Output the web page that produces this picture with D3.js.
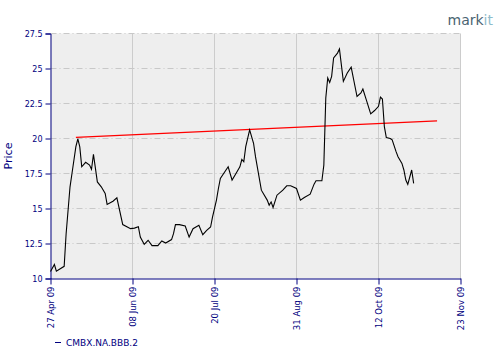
<!DOCTYPE html>
<html><head><meta charset="utf-8">
<script src="https://cdn.jsdelivr.net/npm/d3@7"></script>
<style>body{margin:0;background:#fff}svg{display:block}</style>
</head><body>
<script>
const seriesName = "CMBX.NA.BBB.2";
const dates = ["2009-04-27","2009-04-29","2009-04-30","2009-05-04","2009-05-05","2009-05-07","2009-05-08","2009-05-10","2009-05-11","2009-05-12","2009-05-13","2009-05-15","2009-05-17","2009-05-18","2009-05-19","2009-05-21","2009-05-23","2009-05-25","2009-05-26","2009-05-29","2009-05-31","2009-06-03","2009-06-07","2009-06-09","2009-06-11","2009-06-12","2009-06-14","2009-06-16","2009-06-18","2009-06-21","2009-06-23","2009-06-25","2009-06-28","2009-06-29","2009-06-30","2009-07-02","2009-07-05","2009-07-07","2009-07-09","2009-07-12","2009-07-14","2009-07-16","2009-07-18","2009-07-19","2009-07-21","2009-07-22","2009-07-23","2009-07-27","2009-07-29","2009-07-31","2009-08-02","2009-08-03","2009-08-04","2009-08-05","2009-08-07","2009-08-09","2009-08-10","2009-08-13","2009-08-16","2009-08-17","2009-08-18","2009-08-19","2009-08-21","2009-08-24","2009-08-26","2009-08-28","2009-08-31","2009-09-02","2009-09-04","2009-09-07","2009-09-09","2009-09-10","2009-09-13","2009-09-14","2009-09-15","2009-09-16","2009-09-17","2009-09-18","2009-09-19","2009-09-21","2009-09-22","2009-09-24","2009-09-26","2009-09-28","2009-10-01","2009-10-03","2009-10-04","2009-10-06","2009-10-08","2009-10-10","2009-10-12","2009-10-13","2009-10-14","2009-10-15","2009-10-16","2009-10-18","2009-10-19","2009-10-21","2009-10-22","2009-10-24","2009-10-25","2009-10-26","2009-10-27","2009-10-29","2009-10-30"];
const prices = [10.50,11.00,10.52,10.87,13.20,16.55,17.50,19.42,19.97,19.40,17.98,18.30,18.10,17.80,18.87,16.90,16.55,16.07,15.29,15.52,15.76,13.85,13.56,13.60,13.70,12.96,12.44,12.73,12.35,12.35,12.68,12.53,12.78,13.20,13.85,13.85,13.75,12.96,13.56,13.80,13.13,13.44,13.68,14.40,15.60,16.43,17.15,17.98,17.03,17.50,17.98,18.50,18.34,19.42,20.61,19.66,18.70,16.31,15.60,15.24,15.47,15.07,15.95,16.31,16.62,16.62,16.43,15.60,15.79,16.02,16.74,16.98,16.98,18.10,22.89,24.32,24.00,24.44,25.76,26.10,26.40,24.08,24.68,25.10,23.00,23.25,23.53,22.65,21.76,22.00,22.30,22.96,22.82,20.85,20.06,20.00,19.90,19.06,18.70,18.22,17.75,17.03,16.72,17.75,16.79];
const trendDates = ["2009-05-10","2009-11-11"];
const trendValues = [20.08, 21.26];
const xTickDates = ["2009-04-27","2009-06-08","2009-07-20","2009-08-31","2009-10-12","2009-11-23"];
const yTicks = [10,12.5,15,17.5,20,22.5,25,27.5];

const parse = d3.utcParse("%Y-%m-%d");
const fmt = d3.utcFormat("%d %b %y");
const W = 500, H = 360;
const navy = "#000080";
const svg = d3.select("body").append("svg").attr("width", W).attr("height", H);

const x = d3.scaleUtc().domain([parse(xTickDates[0]), parse(xTickDates[xTickDates.length-1])]).range([50.5, 460.5]);
const y = d3.scaleLinear().domain([10, 27.5]).range([278.5, 33.5]);

// plot background
svg.append("rect").attr("x", 50.5).attr("y", 33.5).attr("width", 410).attr("height", 245).attr("fill", "#eeeeee");

// vertical grid
svg.append("g").selectAll("line").data(xTickDates.slice(1)).join("line")
  .attr("x1", d => x(parse(d))).attr("x2", d => x(parse(d)))
  .attr("y1", 33.5).attr("y2", 278.5)
  .attr("stroke", "#cccccc").attr("stroke-width", 1);

// horizontal grid
svg.append("g").selectAll("line").data(yTicks.slice(1)).join("line")
  .attr("x1", 50.5).attr("x2", 460.5)
  .attr("y1", d => y(d)).attr("y2", d => y(d))
  .attr("stroke", "#c8c8c8").attr("stroke-width", 1).attr("stroke-dasharray", "6,3,1,3");

// y axis
const yAxis = svg.append("g").attr("transform", "translate(50.5,0)")
  .call(d3.axisLeft(y).tickValues(yTicks).tickSize(5).tickPadding(3).tickFormat(d => String(d)));
yAxis.selectAll("path,line").attr("stroke", navy);
yAxis.selectAll("text").attr("fill", navy).attr("font-family", "DejaVu Sans, Verdana, sans-serif").attr("font-size", "8px");

// x axis
const xAxis = svg.append("g").attr("transform", "translate(0,278.5)")
  .call(d3.axisBottom(x).tickValues(xTickDates.map(parse)).tickSize(6).tickSizeOuter(0).tickFormat(fmt));
xAxis.selectAll("path,line").attr("stroke", navy);
xAxis.selectAll("text").attr("fill", navy).attr("font-family", "DejaVu Sans, Verdana, sans-serif").attr("font-size", "8.5px")
  .attr("transform", "rotate(-90)").attr("text-anchor", "end").attr("x", -8).attr("y", 0).attr("dy", "0.33em");

// y label
svg.append("text").attr("transform", "translate(12,156) rotate(-90)").attr("text-anchor", "middle")
  .attr("fill", navy).attr("font-family", "DejaVu Sans, Verdana, sans-serif").attr("font-size", "11px").text("Price");

// trend line
const trend = trendDates.map((d, i) => ({d: parse(d), v: trendValues[i]}));
svg.append("path").datum(trend)
  .attr("d", d3.line().x(d => x(d.d)).y(d => y(d.v)))
  .attr("fill", "none").attr("stroke", "#ff0000").attr("stroke-width", 1.3);

// series line
const data = dates.map((d, i) => ({d: parse(d), v: prices[i]}));
svg.append("path").datum(data)
  .attr("d", d3.line().x(d => x(d.d)).y(d => y(d.v)))
  .attr("fill", "none").attr("stroke", "#000000").attr("stroke-width", 1.1);

// legend
svg.append("line").attr("x1", 55).attr("x2", 61).attr("y1", 342.5).attr("y2", 342.5).attr("stroke", navy).attr("stroke-width", 1);
svg.append("text").attr("x", 66).attr("y", 346).attr("fill", navy)
  .attr("font-family", "DejaVu Sans, Verdana, sans-serif").attr("font-size", "9px").text(seriesName);

// logo
const logo = svg.append("text").attr("x", 493).attr("y", 25).attr("text-anchor", "end")
  .attr("font-family", "DejaVu Sans, Verdana, sans-serif").attr("font-size", "14px");
logo.append("tspan").attr("fill", "#4a6472").text("mark");
logo.append("tspan").attr("fill", "#8fbccb").text("it");
</script>
</body></html>
